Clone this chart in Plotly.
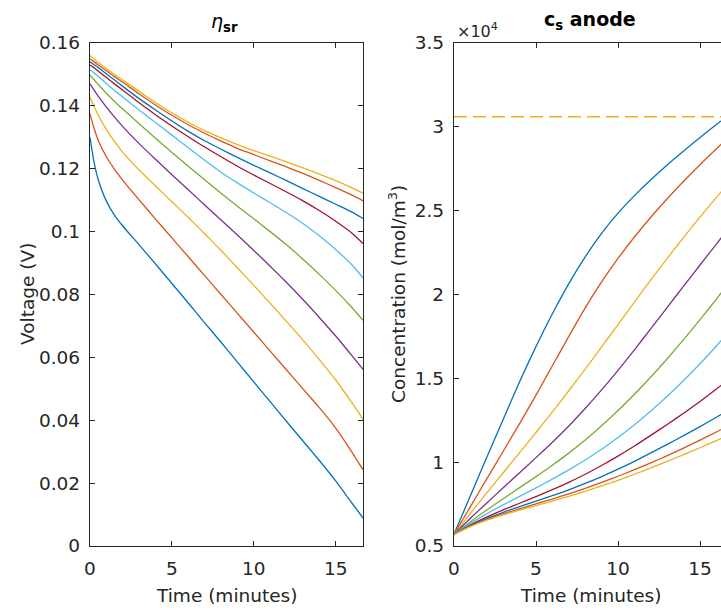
import plotly.graph_objects as go

# ---------------- data ----------------
colors = ['#0072BD', '#D95319', '#EDB120', '#7E2F8E', '#77AC30',
          '#4DBEEE', '#A2142F', '#0072BD', '#D95319', '#EDB120']

# Left panel: eta_sr (V) vs time (minutes)
t_left = [0, 0.25, 0.5, 1, 1.5, 2, 3, 4, 5, 6, 7, 8, 9, 10, 11, 12, 13, 14, 15, 16, 16.67]
eta_1 = [0.1300, 0.1220, 0.1166, 0.1097, 0.1052, 0.1018, 0.0958, 0.0897, 0.0835, 0.0773, 0.0710, 0.0648, 0.0585, 0.0522, 0.0459, 0.0396, 0.0334, 0.0272, 0.0207, 0.0136, 0.0089]
eta_2 = [0.1375, 0.1328, 0.1291, 0.1238, 0.1198, 0.1163, 0.1101, 0.1040, 0.0980, 0.0920, 0.0860, 0.0800, 0.0740, 0.0680, 0.0620, 0.0560, 0.0500, 0.0440, 0.0375, 0.0298, 0.0242]
eta_3 = [0.1428, 0.1398, 0.1371, 0.1325, 0.1286, 0.1252, 0.1196, 0.1145, 0.1095, 0.1045, 0.0993, 0.0940, 0.0885, 0.0829, 0.0772, 0.0714, 0.0655, 0.0593, 0.0528, 0.0455, 0.0403]
eta_4 = [0.1470, 0.1450, 0.1431, 0.1396, 0.1364, 0.1334, 0.1280, 0.1230, 0.1181, 0.1133, 0.1085, 0.1037, 0.0989, 0.0940, 0.0890, 0.0838, 0.0784, 0.0727, 0.0668, 0.0605, 0.0562]
eta_5 = [0.1498, 0.1483, 0.1468, 0.1440, 0.1414, 0.1390, 0.1343, 0.1297, 0.1252, 0.1208, 0.1165, 0.1122, 0.1081, 0.1041, 0.1000, 0.0958, 0.0912, 0.0864, 0.0813, 0.0758, 0.0718]
eta_6 = [0.1515, 0.1505, 0.1494, 0.1471, 0.1449, 0.1428, 0.1387, 0.1347, 0.1307, 0.1267, 0.1227, 0.1189, 0.1155, 0.1123, 0.1092, 0.1060, 0.1026, 0.0987, 0.0943, 0.0894, 0.0853]
eta_7 = [0.1530, 0.1521, 0.1511, 0.1490, 0.1470, 0.1450, 0.1410, 0.1372, 0.1336, 0.1302, 0.1269, 0.1238, 0.1208, 0.1180, 0.1153, 0.1126, 0.1098, 0.1067, 0.1033, 0.0995, 0.0962]
eta_8 = [0.1540, 0.1531, 0.1522, 0.1502, 0.1482, 0.1462, 0.1423, 0.1387, 0.1352, 0.1319, 0.1289, 0.1262, 0.1236, 0.1211, 0.1187, 0.1162, 0.1137, 0.1112, 0.1087, 0.1062, 0.1042]
eta_9 = [0.1550, 0.1540, 0.1530, 0.1512, 0.1493, 0.1475, 0.1438, 0.1403, 0.1370, 0.1340, 0.1313, 0.1288, 0.1265, 0.1245, 0.1225, 0.1206, 0.1185, 0.1163, 0.1140, 0.1116, 0.1098]
eta_10 = [0.1560, 0.1549, 0.1538, 0.1519, 0.1500, 0.1482, 0.1446, 0.1411, 0.1378, 0.1348, 0.1321, 0.1298, 0.1277, 0.1258, 0.1240, 0.1222, 0.1203, 0.1183, 0.1162, 0.1139, 0.1122]
eta_series = [eta_1, eta_2, eta_3, eta_4, eta_5, eta_6, eta_7, eta_8, eta_9, eta_10]

# Right panel: c_s anode (mol/m^3) vs time (minutes)
t_right = [0, 1, 2, 3, 4, 5, 6, 7, 8, 9, 10, 11, 12, 13, 14, 15, 16, 16.67]
cs_1 = [5700, 8000, 10300, 12550, 14800, 16900, 18850, 20650, 22250, 23650, 24850, 25900, 26850, 27730, 28560, 29360, 30140, 30640]
cs_2 = [5700, 7350, 9000, 10650, 12300, 14000, 15750, 17500, 19200, 20750, 22150, 23430, 24610, 25710, 26750, 27740, 28690, 29310]
cs_3 = [5700, 6950, 8170, 9370, 10570, 11770, 13000, 14260, 15550, 16870, 18210, 19550, 20870, 22160, 23410, 24620, 25790, 26550]
cs_4 = [5700, 6650, 7570, 8470, 9370, 10270, 11190, 12160, 13200, 14310, 15480, 16700, 17960, 19230, 20500, 21760, 23010, 23850]
cs_5 = [5700, 6450, 7150, 7820, 8480, 9140, 9820, 10540, 11320, 12170, 13080, 14050, 15080, 16170, 17310, 18500, 19730, 20570]
cs_6 = [5700, 6350, 6920, 7450, 7960, 8470, 8990, 9540, 10130, 10770, 11470, 12230, 13050, 13930, 14870, 15870, 16930, 17670]
cs_7 = [5700, 6250, 6720, 7150, 7550, 7950, 8360, 8800, 9280, 9800, 10360, 10960, 11600, 12250, 12920, 13620, 14360, 14870]
cs_8 = [5700, 6200, 6630, 7010, 7350, 7670, 8000, 8350, 8730, 9140, 9580, 10050, 10550, 11060, 11580, 12120, 12680, 13060]
cs_9 = [5700, 6180, 6580, 6920, 7220, 7510, 7800, 8110, 8440, 8790, 9160, 9550, 9960, 10390, 10840, 11310, 11800, 12140]
cs_10 = [5700, 6160, 6540, 6860, 7140, 7410, 7680, 7960, 8260, 8580, 8920, 9280, 9660, 10050, 10450, 10860, 11290, 11580]
cs_series = [cs_1, cs_2, cs_3, cs_4, cs_5, cs_6, cs_7, cs_8, cs_9, cs_10]

cs_limit = 30600  # dashed reference level

eta_ticks = [0, 0.02, 0.04, 0.06, 0.08, 0.1, 0.12, 0.14, 0.16]
eta_ticklabels = ['0', '0.02', '0.04', '0.06', '0.08', '0.1', '0.12', '0.14', '0.16']
cs_ticks = [5000, 10000, 15000, 20000, 25000, 30000, 35000]
cs_ticklabels = ['0.5', '1', '1.5', '2', '2.5', '3', '3.5']
t_ticks = [0, 5, 10, 15]

# ---------------- figure ----------------
W, H = 721, 612
def px(x):
    return x / W
def py(y):
    return 1 - y / H

fig = go.Figure()
for s, c in zip(eta_series, colors):
    fig.add_trace(go.Scatter(x=t_left, y=s, mode='lines',
                             line=dict(color=c, width=1.3, shape='spline', smoothing=0.6),
                             xaxis='x', yaxis='y', showlegend=False, hoverinfo='skip'))
for s, c in zip(cs_series, colors):
    fig.add_trace(go.Scatter(x=t_right, y=s, mode='lines',
                             line=dict(color=c, width=1.3, shape='spline', smoothing=0.6),
                             xaxis='x2', yaxis='y2', showlegend=False, hoverinfo='skip'))
fig.add_trace(go.Scatter(x=[0, t_right[-1]], y=[cs_limit, cs_limit], mode='lines',
                         line=dict(color='#EDB120', width=1.3, dash='13px,6px'),
                         xaxis='x2', yaxis='y2', showlegend=False, hoverinfo='skip'))

axcol = '#262626'
fam = 'DejaVu Sans, Liberation Sans, Arial, sans-serif'
font = dict(family=fam, size=18.5, color=axcol)
common = dict(showline=True, linecolor=axcol, linewidth=1.3, ticks='inside', ticklen=5,
              tickcolor=axcol, tickwidth=1.2, showgrid=False, zeroline=False,
              tickfont=font, automargin=False)
ydom = [py(546), py(43)]

fig.update_layout(
    template='none',
    width=W, height=H, margin=dict(l=0, r=0, t=0, b=0, pad=0),
    paper_bgcolor='white', plot_bgcolor='white',
    font=font,
    xaxis=dict(domain=[px(90), px(363)], range=[0, 16.667], tickvals=t_ticks,
               mirror='ticks', anchor='y', ticklabelstandoff=6, **common),
    yaxis=dict(domain=ydom, range=[0, 0.16], tickvals=eta_ticks, ticktext=eta_ticklabels,
               mirror='ticks', anchor='x', ticklabelstandoff=5, **common),
    xaxis2=dict(domain=[px(454), 1.0], range=[0, 16.28], tickvals=t_ticks,
                mirror='ticks', anchor='y2', ticklabelstandoff=6, **common),
    yaxis2=dict(domain=ydom, range=[5000, 35000], tickvals=cs_ticks, ticktext=cs_ticklabels,
                mirror=False, anchor='x2', ticklabelstandoff=5, **common),
)

def note(text, x, y, size=18.5, color=axcol, angle=0, xanchor='center', yanchor='middle'):
    return dict(text=text, x=px(x), y=py(y), xref='paper', yref='paper', xanchor=xanchor,
                yanchor=yanchor, textangle=angle, showarrow=False,
                font=dict(family=fam, size=size, color=color))

ann = [
    note('<i>η</i><sub><b>sr</b></sub>', 225, 23, size=19, color='#000000'),
    note('<b>c<sub>s</sub> anode</b>', 590, 21, size=19, color='#000000'),
    note('×10<sup>4</sup>', 455, 30, size=16, xanchor='left'),
    note('Time (minutes)', 226, 595),
    note('Time (minutes)', 590, 595),
    note('Voltage (V)', 27, 294, angle=-90),
    note('Concentration (mol/m<sup>3</sup>)', 397, 294, angle=-90),
]
fig.update_layout(annotations=ann)

fig.write_html('out.html')
